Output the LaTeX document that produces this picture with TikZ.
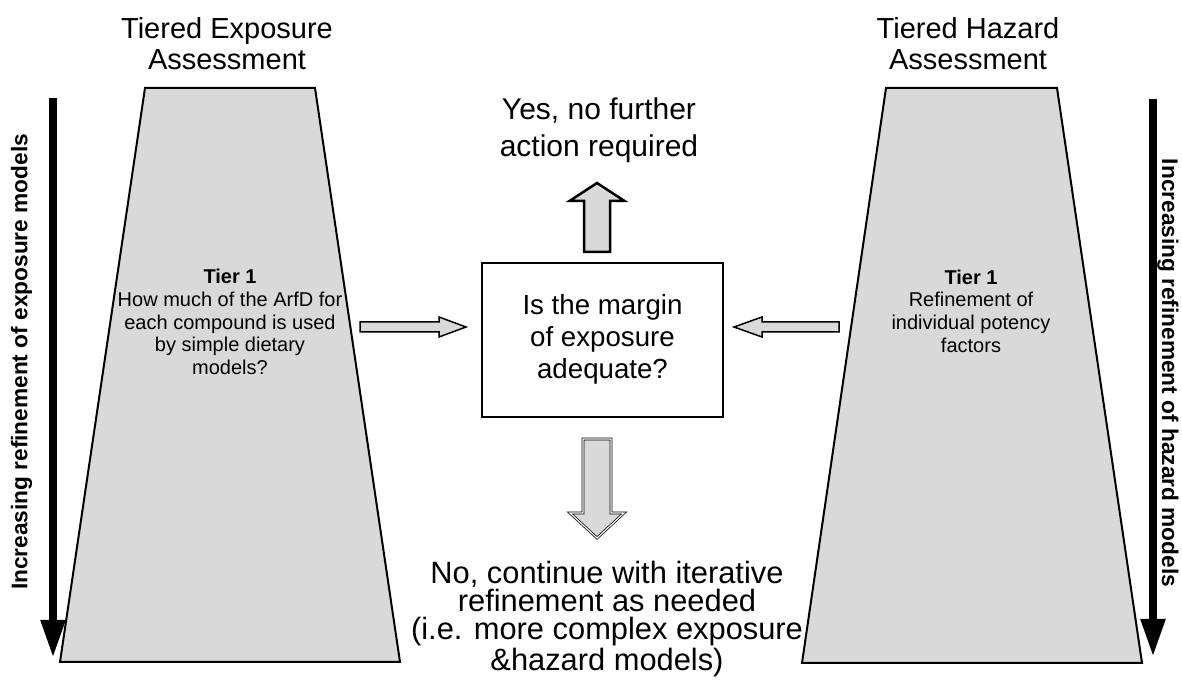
\documentclass[tikz,border=0pt]{standalone}
\usepackage{fontspec}
\setmainfont{Liberation Sans}
\usetikzlibrary{arrows.meta,positioning}
\definecolor{tiergray}{RGB}{217,217,217}

\begin{document}
\begin{tikzpicture}[x=0.6pt,y=-0.6pt,
  tier/.style={draw,line width=1.2pt,fill=tiergray},
  title/.style={align=center,inner sep=0pt,font=\fontsize{17.4}{18.6}\selectfont},
  tiertext/.style={align=center,inner sep=0pt,font=\fontsize{12}{13.6}\selectfont},
  sidelabel/.style={inner sep=0pt,font=\fontsize{13.6}{16}\selectfont\bfseries},
  refine/.style={line width=4.8pt,-{Triangle[width=13.8pt,length=22.8pt]}},
  outcome/.style={align=center,inner sep=0pt},
  blockfill/.style={fill=tiergray,draw},
  pics/blockarrow/.style n args={4}{code={
    \path[pic actions] (0,-#2) -- (#1-#4,-#2) -- (#1-#4,-#3) -- (#1,0)
      -- (#1-#4,#3) -- (#1-#4,#2) -- (0,#2) -- cycle;}}]
\useasboundingbox (0,0) rectangle (1182,687);

% the two tiered assessments
\coordinate (expTL) at (145,88);
\coordinate (expTR) at (315,88);
\coordinate (expBR) at (400,662);
\coordinate (expBL) at (60,662);
\draw[tier] (expTL) -- (expTR) -- (expBR) -- (expBL) -- cycle;

\coordinate (hazTL) at (886,88);
\coordinate (hazTR) at (1057,88);
\coordinate (hazBR) at (1142,663);
\coordinate (hazBL) at (802,663);
\draw[tier] (hazTL) -- (hazTR) -- (hazBR) -- (hazBL) -- cycle;

\node[title] (exptitle) at (227,43.5) {Tiered Exposure\\Assessment};
\node[title] (haztitle) at (968,43.5) {Tiered Hazard\\Assessment};

\node[tiertext] (exptier) at (230,322) {\textbf{Tier 1}\\How much of the ArfD for\\each compound is used\\by simple dietary\\models?};
\node[tiertext] (haztier) at (971,311) {\textbf{Tier 1}\\Refinement of\\individual potency\\factors};

% refinement arrows at the sides
\coordinate (expstart) at (53,98);
\coordinate (expend) at (53,658);
\draw[refine] (expstart) -- (expend);
\node[sidelabel,rotate=90] (explabel) at (21.5,362) {Increasing refinement of exposure models};

\coordinate (hazstart) at (1153,99);
\coordinate (hazend) at (1153,657);
\draw[refine] (hazstart) -- (hazend);
\node[sidelabel,rotate=-90] (hazlabel) at (1168,373) {Increasing refinement of hazard models};

% decision
\node[draw,line width=1.2pt,minimum width=144.6pt,minimum height=92.4pt,
  font=\fontsize{16.6}{19.2}\selectfont] (moe) at (602.5,340)
  {\raisebox{-3pt}{\begin{tabular}{@{}c@{}}Is the margin\\of exposure\\adequate?\end{tabular}}};

\node[outcome,font=\fontsize{18}{22.2}\selectfont] (yes) at (599,130) {Yes, no further\\action required};
\node[outcome,font=\fontsize{18.5}{16.8}\selectfont] (no) at (607,619) {No, continue with iterative\\refinement as needed\\(i.e. more complex exposure\\\&hazard models)};

% block arrows
\coordinate (expout) at (360,327);
\coordinate (hazout) at (839,327);
\coordinate (moeup) at (597,252);
\coordinate (moedown) at (597,439);
\pic[blockfill,line width=0.9pt] at (expout) {blockarrow={106}{5}{10}{27}};
\pic[blockfill,line width=0.9pt,rotate=180] at (hazout) {blockarrow={105}{5}{10}{28}};
\pic[blockfill,line width=1.5pt,rotate=90] at (moeup) {blockarrow={69}{13}{27.5}{18}};
\pic[blockfill,double,double distance=0.7pt,line width=0.45pt,rotate=-90] at (moedown) {blockarrow={99}{14}{27}{25}};
\end{tikzpicture}
\end{document}
